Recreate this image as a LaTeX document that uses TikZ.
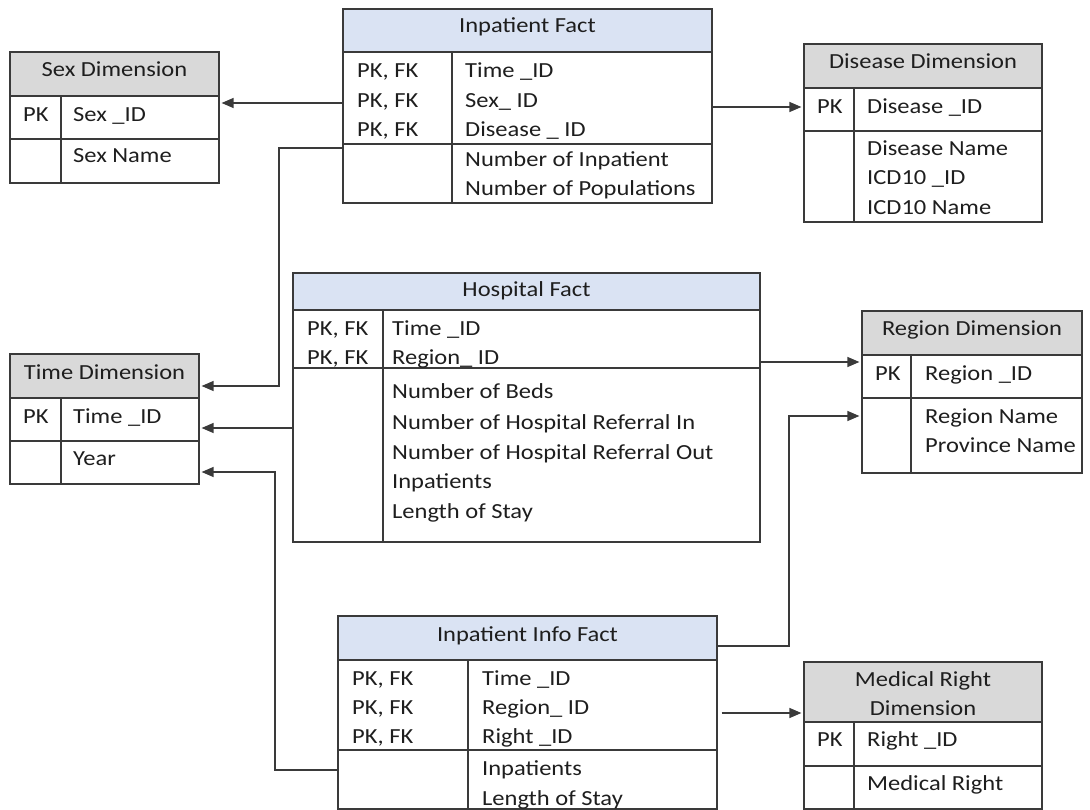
\documentclass[tikz,border=0pt]{standalone}
\usepackage{fontspec}
\setmainfont{Carlito}[FakeStretch=1.14]
\usetikzlibrary{arrows.meta,fit}

\definecolor{factfill}{HTML}{DAE3F3}
\definecolor{dimfill}{HTML}{D9D9D9}
\definecolor{ink}{HTML}{1E1E1E}
\definecolor{rulec}{HTML}{3A3A3A}

\tikzset{
  tbl/.style={draw=rulec, line width=1.2pt, inner sep=0pt},
  sepline/.style={draw=rulec, line width=1.2pt},
  txt/.style={anchor=base west, inner sep=0pt, text=ink, font=\fontsize{21.5}{25}\selectfont},
  ttl/.style={anchor=base, inner sep=0pt, text=ink, font=\fontsize{21.5}{25}\selectfont},
  conn/.style={draw=rulec, line width=1.3pt, -{Triangle[length=12pt,width=10pt]}, shorten >=2pt}
}

% table frame: name, left, top, right, bottom, header bottom, key column x, key row bottom, header fill
\newcommand{\ertable}[9]{%
  \fill[#9] (#2,#3) rectangle (#4,#6);
  \node[tbl, fit={(#2,#3) (#4,#5)}] (#1) {};
  \draw[sepline] (#2,#6) -- (#4,#6);
  \draw[sepline] (#2,#8) -- (#4,#8);
  \draw[sepline] (#7,#6) -- (#7,#5);
}

\begin{document}
\begin{tikzpicture}[x=1pt, y=-1pt]
\useasboundingbox (0,0) rectangle (1090,810);

% ---------- tables ----------
\ertable{sexD}{10}{52}{219}{183}{96}{61}{139}{dimfill}
\ertable{inpF}{343}{9}{712}{203}{52}{452}{144}{factfill}
\ertable{disD}{804}{44}{1042}{222}{88}{854}{131}{dimfill}
\ertable{timeD}{10}{354}{199}{484}{398}{61}{441}{dimfill}
\ertable{hosF}{293}{273}{760}{542}{310}{383}{368}{factfill}
\ertable{regD}{862}{311}{1082}{473}{355}{911}{398}{dimfill}
\ertable{infF}{338}{616}{717}{809}{660}{468}{750}{factfill}
\ertable{medD}{804}{662}{1042}{809}{722}{854}{766}{dimfill}

% ---------- Sex Dimension ----------
\node[ttl] (sexT) at (114.5,77) {Sex Dimension};
\node[txt] (sexK) at (23,122) {PK};
\node[txt] (sexA) at (73,122) {Sex \_ID};
\node[txt] (sexB) at (73,163) {Sex Name};

% ---------- Inpatient Fact ----------
\node[ttl] (inpT) at (527.5,33) {Inpatient Fact};
\foreach \y [count=\i] in {78,107.5,137}
  \node[txt] (inpK\i) at (357,\y) {PK, FK};
\node[txt] (inpA1) at (465,78) {Time \_ID};
\node[txt] (inpA2) at (465,107.5) {Sex\_ ID};
\node[txt] (inpA3) at (465,137) {Disease \_ ID};
\node[txt] (inpB1) at (465,167) {Number of Inpatient};
\node[txt] (inpB2) at (465,196) {Number of Populations};

% ---------- Disease Dimension ----------
\node[ttl] (disT) at (923,69) {Disease Dimension};
\node[txt] (disK) at (817,114) {PK};
\node[txt] (disA) at (867,114) {Disease \_ID};
\node[txt] (disB1) at (867,156) {Disease Name};
\node[txt] (disB2) at (867,185) {ICD10 \_ID};
\node[txt] (disB3) at (867,215) {ICD10 Name};

% ---------- Time Dimension ----------
\node[ttl] (timeT) at (104.5,379) {Time Dimension};
\node[txt] (timeK) at (23,423) {PK};
\node[txt] (timeA) at (73,423) {Time \_ID};
\node[txt] (timeB) at (73,465) {Year};

% ---------- Hospital Fact ----------
\node[ttl] (hosT) at (526.5,297) {Hospital Fact};
\foreach \y [count=\i] in {336,364.5}
  \node[txt] (hosK\i) at (307,\y) {PK, FK};
\node[txt] (hosA1) at (392,336) {Time \_ID};
\node[txt] (hosA2) at (392,364.5) {Region\_ ID};
\node[txt] (hosB1) at (392,399) {Number of Beds};
\node[txt] (hosB2) at (392,429) {Number of Hospital Referral In};
\node[txt] (hosB3) at (392,459) {Number of Hospital Referral Out};
\node[txt] (hosB4) at (392,488) {Inpatients};
\node[txt] (hosB5) at (392,518) {Length of Stay};

% ---------- Region Dimension ----------
\node[ttl] (regT) at (972,336) {Region Dimension};
\node[txt] (regK) at (875,381) {PK};
\node[txt] (regA) at (925,381) {Region \_ID};
\node[txt] (regB1) at (925,423) {Region Name};
\node[txt] (regB2) at (925,452) {Province Name};

% ---------- Inpatient Info Fact ----------
\node[ttl] (infT) at (527.5,641) {Inpatient Info Fact};
\foreach \y [count=\i] in {685,714,743}
  \node[txt] (infK\i) at (352,\y) {PK, FK};
\node[txt] (infA1) at (482,685) {Time \_ID};
\node[txt] (infA2) at (482,714) {Region\_ ID};
\node[txt] (infA3) at (482,743) {Right \_ID};
\node[txt] (infB1) at (482,775) {Inpatients};
\node[txt] (infB2) at (482,805) {Length of Stay};

% ---------- Medical Right Dimension ----------
\node[ttl] (medT1) at (923,686) {Medical Right};
\node[ttl] (medT2) at (923,715) {Dimension};
\node[txt] (medK) at (817,746) {PK};
\node[txt] (medA) at (867,746) {Right \_ID};
\node[txt] (medB) at (867,790) {Medical Right};

% ---------- relationships ----------
\draw[conn] (inpF.west |- 0,103) -- (sexD.east |- 0,103);
\draw[conn] (inpF.east |- 0,107) -- (disD.west |- 0,107);
\draw[conn] (inpF.west |- 0,148) -| (279,386) -- (timeD.east |- 0,386);
\draw[conn] (hosF.west |- 0,428) -- (timeD.east |- 0,428);
\draw[conn] (infF.west |- 0,770) -| (275,472) -- (timeD.east |- 0,472);
\draw[conn] (hosF.east |- 0,362) -- (regD.west |- 0,362);
\draw[conn] (infF.east |- 0,646) -| (789,416) -- (regD.west |- 0,416);
\draw[conn, shorten <=4pt] (infF.east |- 0,713) -- (medD.west |- 0,713);
\end{tikzpicture}
\end{document}
